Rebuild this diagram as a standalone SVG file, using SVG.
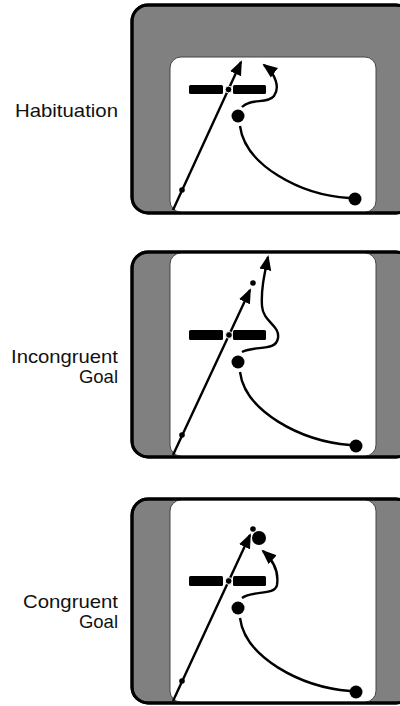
<svg xmlns="http://www.w3.org/2000/svg" width="400" height="706" viewBox="0 0 400 706">
<style>
.outer{fill:#808080;stroke:#000;stroke-width:3}
.frame{fill:none;stroke:#000;stroke-width:3}
.inner{fill:#fff;stroke:#444;stroke-width:1}
.bar{fill:#000}
.path{fill:none;stroke:#000;stroke-width:2.4}
.dot{fill:#000}
.gapdot{fill:#000;stroke:#fff;stroke-width:1}
.lbl{font-family:"Liberation Sans",Arial,sans-serif;font-size:18.5px;fill:#111;text-anchor:end}
</style>
<defs>
<marker id="ah" markerUnits="userSpaceOnUse" markerWidth="16" markerHeight="14" viewBox="0 0 16 14" refX="13" refY="7" orient="auto">
<path d="M0,1 L15,7 L0,13 Z" fill="#000"/>
</marker>
</defs>
<rect width="400" height="706" fill="#fff"/>

<g id="label-habituation"><text class="lbl" x="118" y="117" textLength="103" lengthAdjust="spacingAndGlyphs">Habituation</text></g>
<g id="label-incongruent"><text class="lbl" x="118" y="363" textLength="107" lengthAdjust="spacingAndGlyphs">Incongruent</text><text class="lbl" x="118" y="383">Goal</text></g>
<g id="label-congruent"><text class="lbl" x="118" y="608" textLength="95" lengthAdjust="spacingAndGlyphs">Congruent</text><text class="lbl" x="118" y="628">Goal</text></g>

<g id="panel-habituation">
<rect class="outer" x="132" y="5" width="280" height="208" rx="16"/>
<rect class="inner" x="170" y="57" width="206" height="155" rx="11"/>
<rect class="frame" x="132" y="5" width="280" height="208" rx="16"/>
<rect class="bar" x="189" y="85" width="34" height="9" rx="1.5"/>
<rect class="bar" x="233" y="85" width="33" height="9" rx="1.5"/>
<circle class="dot" cx="238" cy="116" r="6.5"/>
<circle class="dot" cx="355" cy="199" r="6.5"/>
</g>

<g id="panel-incongruent">
<rect class="outer" x="132" y="252" width="280" height="205" rx="16"/>
<rect class="inner" x="170" y="253" width="206" height="203" rx="11"/>
<rect class="frame" x="132" y="252" width="280" height="205" rx="16"/>
<rect class="bar" x="189" y="330" width="34" height="10" rx="1.5"/>
<rect class="bar" x="233" y="330" width="33" height="10" rx="1.5"/>
<circle class="dot" cx="238" cy="362" r="6.5"/>
<circle class="dot" cx="356" cy="446" r="6.5"/>
<circle class="dot" cx="253" cy="283" r="2.8"/>
</g>

<g id="panel-congruent">
<rect class="outer" x="132" y="499" width="280" height="204" rx="16"/>
<rect class="inner" x="170" y="500" width="206" height="202" rx="11"/>
<rect class="frame" x="132" y="499" width="280" height="204" rx="16"/>
<rect class="bar" x="189" y="576" width="34" height="10" rx="1.5"/>
<rect class="bar" x="233" y="576" width="33" height="10" rx="1.5"/>
<circle class="dot" cx="238" cy="608" r="6.5"/>
<circle class="dot" cx="356" cy="692" r="6.5"/>
<circle class="dot" cx="253" cy="529" r="2.8"/>
<circle class="dot" cx="259" cy="538" r="7"/>
</g>

<g id="connectors">
<path class="path" d="M173,210 L241,62" marker-end="url(#ah)"/>
<circle class="dot" cx="182" cy="190" r="2.8"/>
<circle class="gapdot" cx="228.5" cy="89.5" r="3.4"/>
<path class="path" d="M240,126 C245,165 300,195 349,198"/>
<path class="path" d="M242,107 C250,98 268,104 274,96 C280,88 276,74 264,65" marker-end="url(#ah)"/>

<path class="path" d="M173,455 L250,290" marker-end="url(#ah)"/>
<circle class="dot" cx="182" cy="435" r="2.8"/>
<circle class="gapdot" cx="229" cy="335" r="3.4"/>
<path class="path" d="M240,372 C245,411 300,441 350,445"/>
<path class="path" d="M242,352 C255,345 276,352 278,338 C280,325 263,322 262,306 C261,290 264,276 268,257" marker-end="url(#ah)"/>

<path class="path" d="M173,701 L250,535" marker-end="url(#ah)"/>
<circle class="dot" cx="182" cy="681" r="2.8"/>
<circle class="gapdot" cx="228.7" cy="581" r="3.4"/>
<path class="path" d="M240,618 C245,657 300,687 350,691"/>
<path class="path" d="M242,598 C252,590 275,596 277,585 C279,572 273,560 263,551" marker-end="url(#ah)"/>
</g>
</svg>
